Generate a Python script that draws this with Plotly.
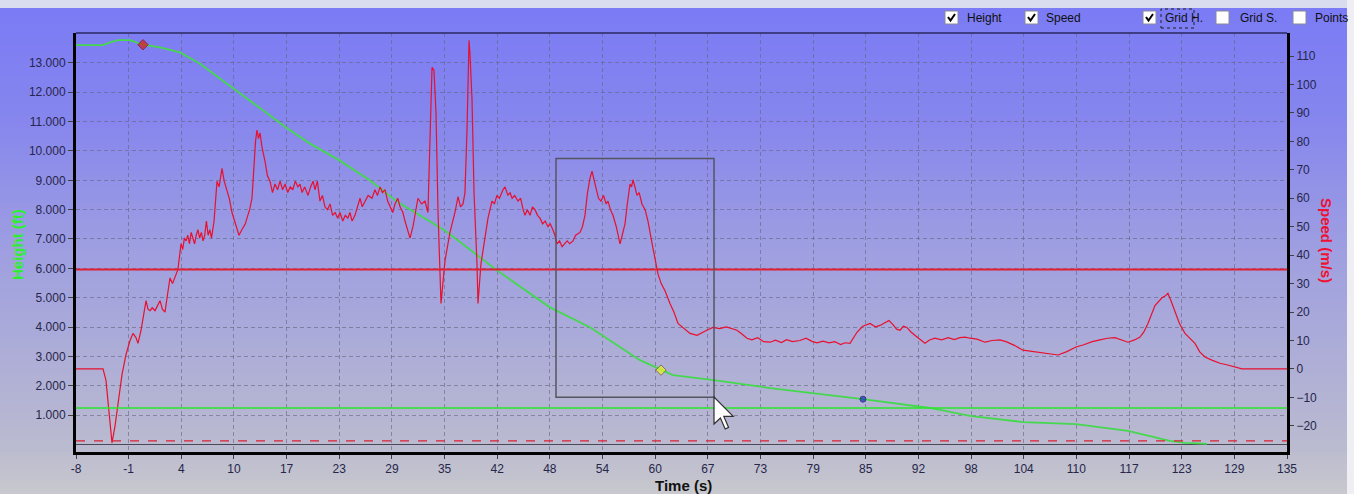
import plotly.graph_objects as go

# ------------------------------------------------------------------ data
tick_labels = ["-8", "-1", "4", "10", "17", "23", "29", "35", "42", "48", "54", "60",
               "67", "73", "79", "85", "92", "98", "104", "110", "117", "123", "129", "135"]
time_min, time_max = -8, 135

height_ticks = [1000, 2000, 3000, 4000, 5000, 6000, 7000, 8000, 9000, 10000, 11000, 12000, 13000]
height_tick_labels = ["1.000", "2.000", "3.000", "4.000", "5.000", "6.000", "7.000",
                      "8.000", "9.000", "10.000", "11.000", "12.000", "13.000"]
speed_ticks = [-20, -10, 0, 10, 20, 30, 40, 50, 60, 70, 80, 90, 100, 110]

height_t = [-8.0, -4.81, -3.99, -3.04, -1.62, -0.09, 1.92, 4.28, 6.64, 10.54, 12.55,
            16.80, 19.63, 23.17, 26.72, 29.31, 30.26, 35.57, 41.71, 47.97, 52.69,
            58.60, 61.08, 62.49, 67.34, 73.95, 84.93, 92.84, 97.57, 103.82, 110.08,
            116.22, 121.18, 122.95, 125.55]
height_h = [13610, 13610, 13700, 13780, 13780, 13620, 13530, 13360, 12970, 12120, 11710,
            10800, 10250, 9670, 8990, 8410, 8210, 7290, 5930, 4670, 3990,
            2870, 2530, 2360, 2190, 1920, 1540, 1240, 970, 760, 690,
            460, 120, 50, 15]

# (time s, speed m/s)
speed_samples = [
    (-8.0, 0), (-4.81, 0), (-4.46, -4), (-4.10, -15), (-3.75, -26), (-3.39, -20),
    (-3.04, -12.5), (-2.57, -2), (-2.10, 5), (-1.62, 10), (-1.27, 12.5), (-0.92, 11),
    (-0.68, 9), (-0.32, 13.6), (0.27, 24), (0.5, 21), (0.74, 20.5), (1.0, 21.5),
    (1.33, 20.5), (1.6, 22), (1.92, 24), (2.2, 21), (2.51, 20), (2.8, 26), (3.10, 32),
    (3.4, 30), (3.69, 32), (4.04, 35), (4.4, 44), (4.6, 42), (4.8, 46), (5.0, 45),
    (5.2, 47), (5.4, 44), (5.6, 48), (5.8, 46), (6.0, 44), (6.2, 47), (6.4, 49),
    (6.6, 46), (6.8, 48), (7.0, 45), (7.2, 47), (7.4, 52), (7.6, 47), (7.8, 49),
    (8.0, 46), (8.3, 52), (8.65, 66), (8.9, 64), (9.24, 70.5), (9.5, 66), (9.83, 63),
    (10.1, 60), (10.42, 55), (10.8, 51), (11.25, 47), (11.6, 49), (12.0, 51),
    (12.19, 53), (12.5, 56), (12.78, 60), (13.0, 72), (13.2, 80), (13.37, 84),
    (13.55, 81), (13.73, 83), (13.96, 78), (14.32, 73), (14.6, 68), (14.91, 66),
    (15.2, 62), (15.5, 65), (15.8, 63), (16.1, 66), (16.4, 63), (16.7, 65), (17.0, 62),
    (17.3, 64), (17.6, 63), (17.9, 66), (18.2, 64), (18.45, 65), (18.7, 62), (19.0, 64),
    (19.4, 61), (19.7, 64), (20.0, 66), (20.22, 63), (20.5, 66), (20.81, 59),
    (21.1, 61), (21.4, 57), (21.7, 56), (22.0, 58), (22.3, 54), (22.6, 55), (22.9, 53),
    (23.17, 55), (23.5, 52), (23.8, 54), (24.1, 53), (24.35, 55), (24.6, 52),
    (24.94, 54), (25.2, 57), (25.54, 60), (25.8, 57), (26.13, 59), (26.5, 61),
    (26.95, 60), (27.3, 63), (27.6, 61), (27.9, 64), (28.2, 62), (28.49, 63),
    (28.8, 59), (29.08, 57), (29.4, 55), (29.67, 58), (30.0, 60), (30.26, 57),
    (30.6, 55), (30.85, 52), (31.2, 48), (31.44, 46), (31.79, 50), (32.1, 56),
    (32.38, 60), (32.8, 58), (33.21, 59), (33.56, 55), (33.80, 80), (34.04, 106),
    (34.27, 105), (34.51, 90), (34.75, 55), (35.10, 23), (35.57, 38), (36.16, 48),
    (36.75, 55), (37.11, 60.6), (37.40, 57), (37.70, 58), (37.93, 62), (38.17, 84),
    (38.41, 115.5), (38.52, 111), (38.76, 95), (39.00, 62), (39.35, 37), (39.47, 23),
    (39.82, 37), (40.30, 46), (40.65, 53), (41.12, 59), (41.4, 58), (41.71, 61),
    (42.0, 60), (42.42, 63), (42.66, 64), (43.0, 61), (43.25, 62), (43.5, 60),
    (43.8, 61), (44.19, 59), (44.5, 60), (44.8, 56), (45.02, 54), (45.3, 56),
    (45.61, 54), (45.9, 57), (46.2, 56), (46.5, 54), (46.79, 53), (47.1, 51),
    (47.4, 52), (47.73, 50), (48.0, 51), (48.3, 49), (48.56, 47), (48.8, 44),
    (49.1, 45), (49.4, 43), (49.74, 44), (50.0, 45), (50.3, 44), (50.69, 45),
    (51.0, 47), (51.51, 48), (51.8, 50), (52.1, 54), (52.4, 62), (52.69, 67),
    (52.93, 69.5), (53.2, 66), (53.4, 63), (53.7, 60), (53.99, 59), (54.3, 61),
    (54.6, 58), (54.82, 59), (55.1, 56), (55.41, 54), (55.8, 50), (56.24, 44),
    (56.5, 47), (56.83, 51), (57.1, 58), (57.42, 65), (57.6, 64), (57.77, 66.5),
    (58.0, 64), (58.24, 61), (58.5, 62), (58.83, 58), (59.2, 56), (59.54, 52),
    (60.13, 42.5), (60.72, 33.4), (61.1, 30), (61.55, 27.5), (62.14, 23), (62.6, 20),
    (63.09, 16), (63.91, 14), (64.5, 12.5), (65.33, 11.8), (66.0, 13), (66.6, 13.8),
    (67.22, 14.6), (68.0, 14.2), (68.8, 14.8), (69.5, 14), (70.05, 13.6), (70.6, 12.4),
    (71.23, 10.8), (71.8, 10.2), (72.5, 11), (73.2, 9.6), (73.95, 9.4), (74.6, 10.1),
    (75.3, 9.3), (75.9, 10.3), (76.6, 9.6), (77.49, 10), (78.2, 10.8), (78.9, 9.7),
    (79.5, 9.2), (80.21, 9.8), (80.9, 9.2), (81.6, 9.6), (82.3, 8.6), (82.8, 9.2),
    (83.4, 9), (84.22, 12.9), (84.9, 15), (85.76, 16), (86.4, 14.8), (86.94, 15.3),
    (87.6, 16.2), (88.0, 17), (88.47, 15.6), (88.9, 14), (89.30, 13.6), (89.7, 15),
    (90.12, 14.6), (90.6, 13), (91.2, 11.5), (91.7, 10.2), (92.25, 9), (92.8, 10.2),
    (93.43, 10.8), (94.2, 10.2), (95.0, 11), (95.7, 10.3), (96.38, 11), (97.0, 11.2),
    (97.57, 10.8), (98.4, 10.5), (99.34, 9.4), (100.2, 10), (101.11, 10.2),
    (101.9, 9.5), (102.8, 8.3), (103.82, 6.6), (104.8, 6.2), (105.83, 5.6),
    (106.8, 5.4), (107.96, 4.9), (109.0, 6.1), (110.08, 7.7), (111.0, 8.5),
    (112.0, 9.6), (112.92, 10.2), (113.8, 10.8), (114.69, 11), (115.4, 10.2),
    (116.22, 9.4), (117.0, 10.2), (117.64, 11.2), (118.1, 13), (118.58, 16),
    (119.41, 22.3), (120.24, 25), (120.6, 25.6), (120.94, 26.6), (121.3, 24),
    (121.77, 20), (122.3, 16), (122.95, 12.5), (123.5, 11), (124.13, 9), (124.7, 6),
    (125.31, 4.2), (126.2, 3), (127.08, 2), (128.0, 1.4), (128.85, 0.8), (129.68, 0),
    (135.0, 0),
]
speed_t = [s[0] for s in speed_samples]
speed_v = [s[1] for s in speed_samples]

marker_t = [-0.09, 61.08, 84.93]
marker_h = [13620, 2530, 1540]

speed_limit_high = 35
speed_limit_low = -25.3
height_limit = 1240

selection_t = [48.68, 67.34]
selection_h = [1610, 9740]

checkbox_labels = ["Height", "Speed", "Grid H.", "Grid S.", "Points"]
checkbox_checked = [True, True, True, False, False]

# ------------------------------------------------------------------ geometry / style
FIG_W, FIG_H = 1354, 494
L, R, T, B = 76, 1287, 33, 452


def PX(x):
    return (x - L) / (R - L)


def PY(y):
    return (B - y) / (B - T)


FONT = "Liberation Sans, Arial, sans-serif"
TICK_COLOR = "#26264a"
GRID_COLOR = "rgba(100,100,128,0.6)"
HEIGHT_COLOR = "#45d84e"
SPEED_COLOR = "#e8102e"

n = len(tick_labels)
tick_pos = [time_min + i * (time_max - time_min) / (n - 1) for i in range(n)]

fig = go.Figure()

fig.add_trace(go.Scatter(x=height_t, y=height_h, mode="lines", name="Height",
                         line=dict(color=HEIGHT_COLOR, width=1.8), yaxis="y",
                         hoverinfo="skip"))
fig.add_trace(go.Scatter(x=speed_t, y=speed_v, mode="lines", name="Speed",
                         line=dict(color=SPEED_COLOR, width=1.2), yaxis="y2",
                         hoverinfo="skip"))
fig.add_trace(go.Scatter(x=marker_t, y=marker_h, mode="markers", yaxis="y",
                         marker=dict(symbol=["diamond", "diamond", "circle"],
                                     size=[8, 8, 6],
                                     color=["#e01818", "#f2f22a", "#1030c0"],
                                     line=dict(color=["#801010", "#606020", "#101060"],
                                               width=1)),
                         hoverinfo="skip"))

shapes = []

# gradient background (whole panel)
stops = [(0, (122, 122, 246)), (120, (134, 134, 238)), (260, (160, 160, 224)),
         (445, (186, 186, 208)), (494, (200, 200, 206))]


def grad(y):
    for (y0, c0), (y1, c1) in zip(stops[:-1], stops[1:]):
        if y0 <= y <= y1:
            f = (y - y0) / (y1 - y0)
            return "rgb(%d,%d,%d)" % tuple(round(a + (b - a) * f) for a, b in zip(c0, c1))
    return "rgb(%d,%d,%d)" % stops[-1][1]


step = 4
for yy in range(0, FIG_H, step):
    shapes.append(dict(type="rect", xref="paper", yref="paper", layer="below",
                       x0=PX(-5), x1=PX(FIG_W + 5), y0=PY(yy + step + 0.5), y1=PY(yy),
                       fillcolor=grad(yy + step / 2), line=dict(width=0)))
# top light strip and right edge
shapes.append(dict(type="rect", xref="paper", yref="paper", layer="below",
                   x0=PX(-5), x1=PX(FIG_W + 5), y0=PY(8), y1=PY(-2),
                   fillcolor="#d9dcef", line=dict(width=0)))
shapes.append(dict(type="rect", xref="paper", yref="paper", layer="below",
                   x0=PX(1347), x1=PX(FIG_W + 5), y0=PY(FIG_H + 2), y1=PY(-2),
                   fillcolor="#eeeef3", line=dict(width=0)))

# reference lines
shapes.append(dict(type="line", xref="paper", yref="y2", x0=0, x1=1,
                   y0=speed_limit_high, y1=speed_limit_high,
                   line=dict(color="#e02032", width=2)))
shapes.append(dict(type="line", xref="paper", yref="y2", x0=0, x1=1,
                   y0=speed_limit_low, y1=speed_limit_low,
                   line=dict(color="#e02032", width=1.2, dash="dash")))
shapes.append(dict(type="line", xref="paper", yref="y", x0=0, x1=1,
                   y0=height_limit, y1=height_limit,
                   line=dict(color="#2ae62a", width=1.6)))

# selection rectangle
shapes.append(dict(type="rect", xref="x", yref="y",
                   x0=selection_t[0], x1=selection_t[1],
                   y0=selection_h[0], y1=selection_h[1],
                   line=dict(color="#555560", width=1.5), fillcolor="rgba(0,0,0,0)"))

# top border of plot area
shapes.append(dict(type="line", xref="paper", yref="paper", x0=0, x1=1, y0=1, y1=1,
                   line=dict(color="#2a2a62", width=1.5)))

# mouse cursor arrow (tip at bottom-right corner of selection)
tip_x, tip_y = 714, 397
arrow = [(0, 0), (0, 27), (6.4, 21), (11.2, 32), (14.6, 30.4), (9.8, 19.4), (19.2, 19.4)]
path = "M " + " L ".join("%f,%f" % (PX(tip_x + dx), PY(tip_y + dy)) for dx, dy in arrow) + " Z"
shapes.append(dict(type="path", xref="paper", yref="paper", path=path,
                   fillcolor="white", line=dict(color="#303030", width=1.2)))

# checkboxes
box_left = [945, 1025, 1143, 1216, 1293]
text_left = [965, 1044, 1163, 1238, 1313]
annotations = []
for lbl, chk, bx, tx in zip(checkbox_labels, checkbox_checked, box_left, text_left):
    shapes.append(dict(type="rect", xref="paper", yref="paper",
                       x0=PX(bx), x1=PX(bx + 13), y0=PY(24), y1=PY(11),
                       fillcolor="white", line=dict(color="#8a8a9a", width=1)))
    if chk:
        cp = "M %f,%f L %f,%f L %f,%f" % (PX(bx + 3), PY(17), PX(bx + 5.5), PY(20.5),
                                          PX(bx + 10), PY(14))
        shapes.append(dict(type="path", xref="paper", yref="paper", path=cp,
                           line=dict(color="black", width=2)))
    annotations.append(dict(text=lbl, xref="paper", yref="paper", x=PX(tx), y=PY(18),
                            xanchor="left", yanchor="middle", showarrow=False,
                            font=dict(family=FONT, size=12, color="#101010")))
# focus rectangle around "Grid H."
shapes.append(dict(type="rect", xref="paper", yref="paper",
                   x0=PX(1161), x1=PX(1194), y0=PY(28), y1=PY(9),
                   line=dict(color="#202020", width=1, dash="dot")))

# axis titles
annotations.append(dict(text="<b>Time (s)</b>", xref="paper", yref="paper",
                        x=PX(683), y=PY(486), xanchor="center", yanchor="middle",
                        showarrow=False, font=dict(family=FONT, size=15, color="#111111")))
annotations.append(dict(text="<b>Height (ft)</b>", xref="paper", yref="paper",
                        x=PX(17), y=PY(245), xanchor="center", yanchor="middle",
                        textangle=-90, showarrow=False,
                        font=dict(family=FONT, size=15, color="#2cf02c")))
annotations.append(dict(text="<b>Speed (m/s)</b>", xref="paper", yref="paper",
                        x=PX(1327), y=PY(240), xanchor="center", yanchor="middle",
                        textangle=90, showarrow=False,
                        font=dict(family=FONT, size=15, color="#ee1133")))

fig.update_layout(
    width=FIG_W, height=FIG_H, autosize=False,
    margin=dict(l=L, r=FIG_W - R, t=T, b=FIG_H - B, pad=0),
    paper_bgcolor="rgb(190,190,208)", plot_bgcolor="rgba(0,0,0,0)",
    showlegend=False, shapes=shapes, annotations=annotations,
    font=dict(family=FONT, size=12, color=TICK_COLOR),
    xaxis=dict(range=[time_min, time_max], tickvals=tick_pos, ticktext=tick_labels,
               showgrid=True, gridcolor=GRID_COLOR, griddash="4px,3px", gridwidth=1,
               zeroline=False, showline=True, linecolor="black", linewidth=3,
               ticks="outside", ticklen=4, tickcolor="#404040",
               tickfont=dict(family=FONT, size=12, color=TICK_COLOR)),
    yaxis=dict(range=[-260, 14020], tickvals=height_ticks, ticktext=height_tick_labels,
               showgrid=True, gridcolor=GRID_COLOR, griddash="4px,3px", gridwidth=1,
               zeroline=True, zerolinecolor="#4a4a55", zerolinewidth=1.2,
               showline=True, linecolor="black", linewidth=3,
               ticks="outside", ticklen=5, tickcolor="#404040",
               tickfont=dict(family=FONT, size=12, color=TICK_COLOR)),
    yaxis2=dict(range=[-29.2, 118.1], tickvals=speed_ticks, overlaying="y", side="right",
                showgrid=False, zeroline=False, showline=True, linecolor="black",
                linewidth=3, ticks="outside", ticklen=4, tickcolor="#404040",
                tickfont=dict(family=FONT, size=12, color=TICK_COLOR)),
)

fig.write_html("out.html", config={"displayModeBar": False},
               post_script="document.body.style.margin='0';")
